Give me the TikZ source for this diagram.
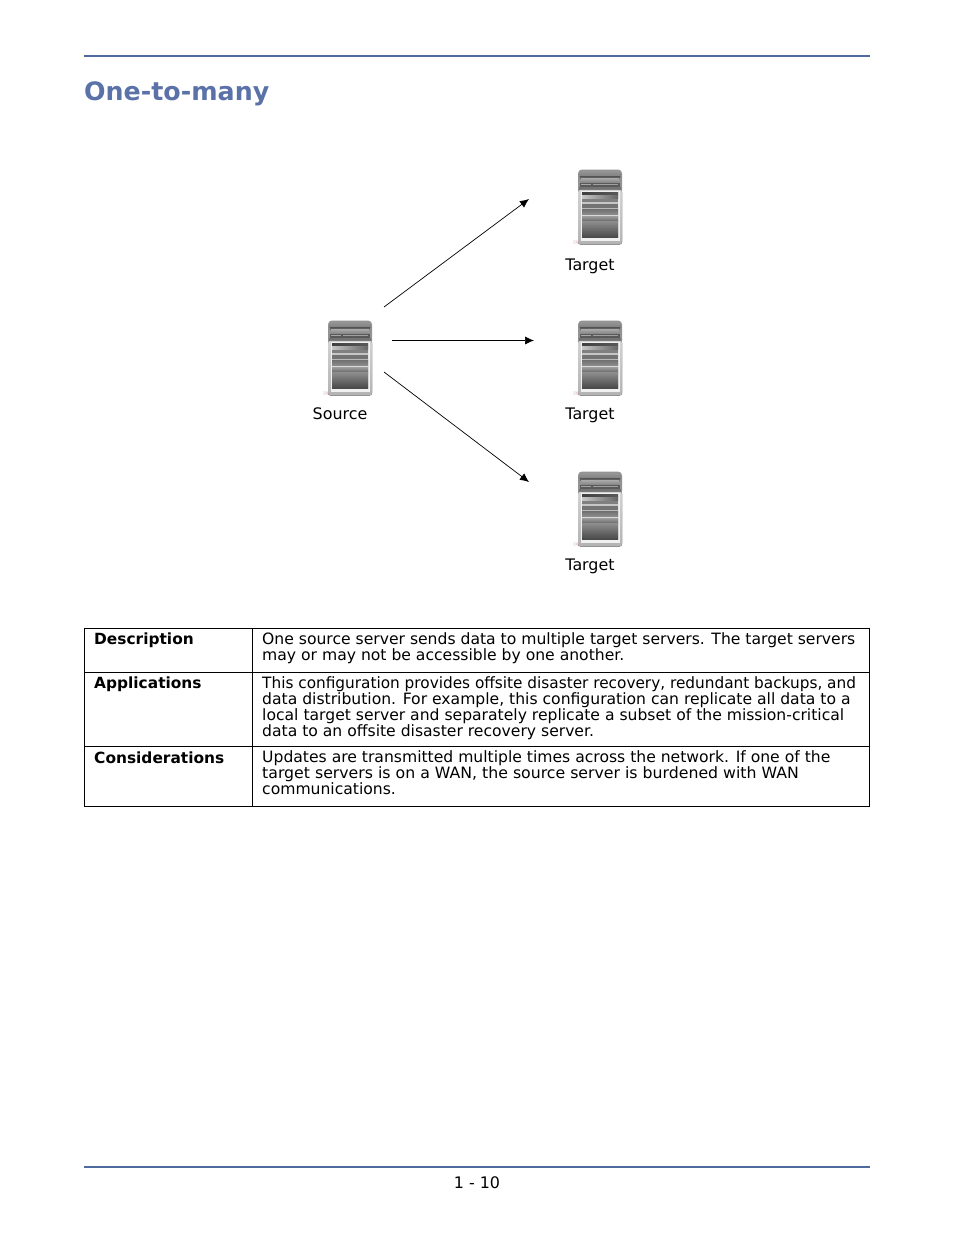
\documentclass[tikz,border=0pt]{standalone}
\usepackage{fontspec}
\setmainfont{DejaVu Sans}
\usetikzlibrary{arrows.meta}
\definecolor{ruleblue}{HTML}{4F6A9E}
\definecolor{titleblue}{HTML}{5A72A8}
\tikzset{
  x=1pt,y=-1pt,
  rulel/.style={draw=ruleblue,line width=1.4pt},
  title/.style={anchor=base west,inner sep=0pt,text=titleblue,font=\fontsize{25.3}{30}\selectfont\bfseries},
  lab/.style={anchor=base,inner sep=0pt,font=\fontsize{15.9}{16}\selectfont},
  head/.style={anchor=base west,inner sep=0pt,font=\fontsize{15.4}{16}\selectfont\bfseries},
  body/.style={anchor=north west,inner sep=0pt,align=left,font=\fontsize{15.6}{16}\selectfont},
  grid/.style={draw=black,line width=0.8pt},
  conn/.style={draw=black,line width=0.7pt,-{Latex[length=9pt,width=8pt]}},
  pics/server/.style={code={
    \fill[red!50!gray,opacity=.10] (-27,70) rectangle (-10,74);
    \fill[red!50!gray,opacity=.12] (-24,71) rectangle (-14,73);
    \fill[gray!85,rounded corners=4pt] (-22,0) rectangle (22,24);
    \fill[top color=gray!85,bottom color=gray!100] (-21,2) rectangle (21,7);
    \fill[top color=black!65,bottom color=black!55] (-20,7) rectangle (20,9);
    \fill[top color=gray!70,bottom color=gray!95] (-19,9) rectangle (19,13);
    \fill[black!65] (-20,13) rectangle (20,17);
    \fill[gray!75] (-7,14) rectangle (18,15.5);
    \fill[gray!70] (-19,14) rectangle (-9,15.5);
    \fill[black!55] (-21,17) rectangle (21,20);
    \fill[top color=gray!35,bottom color=gray!60,rounded corners=2.5pt] (-22,20) rectangle (22,75);
    \fill[gray!12] (-19.5,21) rectangle (19.5,71);
    \fill[top color=black!30,bottom color=black!55] (-18,23) rectangle (18,68);
    \fill[left color=black!75,right color=black!65] (-18,23) rectangle (18,26);
    \fill[left color=gray!45,right color=black!60] (-18,26) rectangle (18,29);
    \fill[black!50] (-18,29) rectangle (18,32);
    \fill[gray!45] (-18,32) rectangle (18,34);
    \fill[black!55] (-18,34) rectangle (18,38);
    \fill[gray!55] (-18,38) rectangle (18,40);
    \fill[top color=black!55,bottom color=black!45] (-18,40) rectangle (18,45);
    \fill[gray!30] (-18,45) rectangle (18,47);
    \fill[top color=black!40,bottom color=black!60] (-18,47) rectangle (18,52);
    \fill[top color=black!45,bottom color=black!72] (-18,52) rectangle (18,68);
  }}
}
\begin{document}
\begin{tikzpicture}
\useasboundingbox (0,0) rectangle (954,1235);
\fill[white] (0,0) rectangle (954,1235);
\draw[rulel] (84,56) -- (870,56);
\draw[rulel] (84,1167) -- (870,1167);
\node[title] (ttl) at (84,100) {One-to-many};

\pic at (350,320.5) {server};
\pic at (600,169.5) {server};
\pic at (600,320.5) {server};
\pic at (600,471.5) {server};

\node[lab] (src) at (340,419) {Source};
\node[lab] (t1) at (590,270) {Target};
\node[lab] (t2) at (590,419) {Target};
\node[lab] (t3) at (590,570) {Target};

\coordinate (s1) at (384,307);
\coordinate (s2) at (392,340.5);
\coordinate (s3) at (384,372);
\coordinate (e1) at (529,199);
\coordinate (e2) at (534,340.5);
\coordinate (e3) at (529,482);
\draw[conn] (s1) -- (e1);
\draw[conn] (s2) -- (e2);
\draw[conn] (s3) -- (e3);

\draw[grid] (84.5,628.5) rectangle (869.5,806.5);
\draw[grid] (84.5,672.5) -- (869.5,672.5);
\draw[grid] (84.5,746.5) -- (869.5,746.5);
\draw[grid] (252.5,628.5) -- (252.5,806.5);

\node[head] (h1) at (94,644) {Description};
\node[head] (h2) at (94,688) {Applications};
\node[head] (h3) at (94,763) {Considerations};

\node[body] (b1) at (262,632) {One source server sends data to multiple target servers. The target servers\\may or may not be accessible by one another.};
\node[body] (b2) at (262,676) {\scalebox{0.981}[1]{This configuration provides offsite disaster recovery, redundant backups, and}\\data distribution. For example, this configuration can replicate all data to a\\local target server and separately replicate a subset of the mission-critical\\data to an offsite disaster recovery server.};
\node[body] (b3) at (262,750) {Updates are transmitted multiple times across the network. If one of the\\\scalebox{1.009}[1]{target servers is on a WAN, the source server is burdened with WAN}\\communications.};

\node[lab] (pg) at (477,1188) {1 - 10};
\end{tikzpicture}
\end{document}
